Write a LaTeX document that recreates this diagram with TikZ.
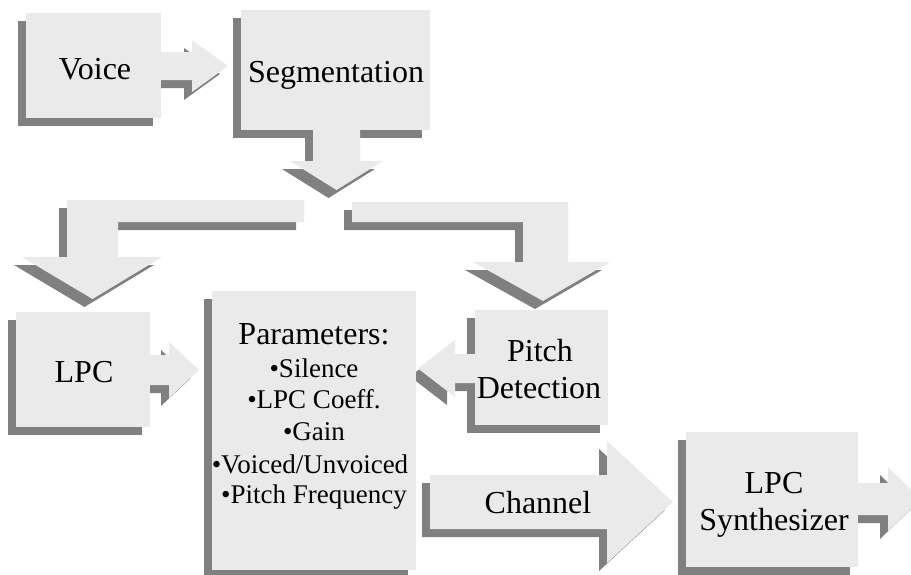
\documentclass[tikz,border=0pt]{standalone}
\usepackage{fontspec}
\setmainfont{Liberation Serif}
\definecolor{facec}{HTML}{EAEAEA}
\definecolor{shadc}{HTML}{808080}
\tikzset{
  lbl/.style={anchor=base, inner sep=0pt, font=\fontsize{32}{38}\selectfont},
  itm/.style={anchor=base, inner sep=0pt, font=\fontsize{27}{32}\selectfont},
}
\newcommand\DrawBlocks[1]{%
  % Voice box and arrow
  \fill[#1] (26,13) rectangle (161,118);
  \fill[#1] (150,52) -- (192,52) -- (192,40) -- (228,66) -- (192,92) -- (192,80) -- (150,80) -- cycle;
  % Segmentation box and down arrow
  \fill[#1] (241,10) rectangle (430,130);
  \fill[#1] (313,120) -- (360,120) -- (360,161) -- (383,161) -- (336.5,190) -- (290,161) -- (313,161) -- cycle;
  % left branch
  \fill[#1] (67,200) -- (304,200) -- (304,222) -- (118,222) -- (118,257) -- (162,257) -- (92.5,299) -- (22,257) -- (67,257) -- cycle;
  % right branch
  \fill[#1] (352,202) -- (568,202) -- (568,262) -- (610,262) -- (543,301) -- (473,262) -- (523,262) -- (523,222) -- (352,222) -- cycle;
  % LPC box and arrow
  \fill[#1] (16,312) rectangle (150,427);
  \fill[#1] (140,355) -- (169,355) -- (169,342) -- (199,370) -- (169,398) -- (169,385) -- (140,385) -- cycle;
  % Parameters box
  \fill[#1] (212,291) rectangle (416,570);
  % Pitch detection box and arrow
  \fill[#1] (475,310) rectangle (608,425);
  \fill[#1] (485,354) -- (455,354) -- (455,340) -- (418,368.5) -- (455,397) -- (455,383) -- (485,383) -- cycle;
  % Channel arrow
  \fill[#1] (430,475) -- (607,475) -- (607,441) -- (673,502) -- (607,563) -- (607,529) -- (430,529) -- cycle;
  % Synthesizer box and arrow
  \fill[#1] (686,432) rectangle (858,567);
  \fill[#1] (848,483) -- (888,483) -- (888,467) -- (921,499) -- (888,531) -- (888,515) -- (848,515) -- cycle;
}
\begin{document}
\begin{tikzpicture}[x=1pt,y=-1pt]
\useasboundingbox (0,0) rectangle (911,574);
\clip (0,0) rectangle (911,574);
\DrawBlocks{shadc, shift={(-8,8)}}
\DrawBlocks{facec}
\node[lbl] (voice) at (95,79) {Voice};
\node[lbl] (seg) at (336,82) {Segmentation};
\node[lbl] (lpc) at (84,382) {LPC};
\node[lbl] (par0) at (314,344) {Parameters:};
\node[itm] (par1) at (314,377) {•Silence};
\node[itm] (par2) at (314,408) {•LPC Coeff.};
\node[itm] (par3) at (314,440) {•Gain};
\node[itm] (par4) at (310,473) {•Voiced/Unvoiced};
\node[itm] (par5) at (314,503) {•Pitch Frequency};
\node[lbl] (pitch1) at (540,361) {Pitch};
\node[lbl] (pitch2) at (539,398) {Detection};
\node[lbl] (chan) at (538,513) {Channel};
\node[lbl] (syn1) at (774,493) {LPC};
\node[lbl] (syn2) at (774,530) {Synthesizer};
\end{tikzpicture}
\end{document}
